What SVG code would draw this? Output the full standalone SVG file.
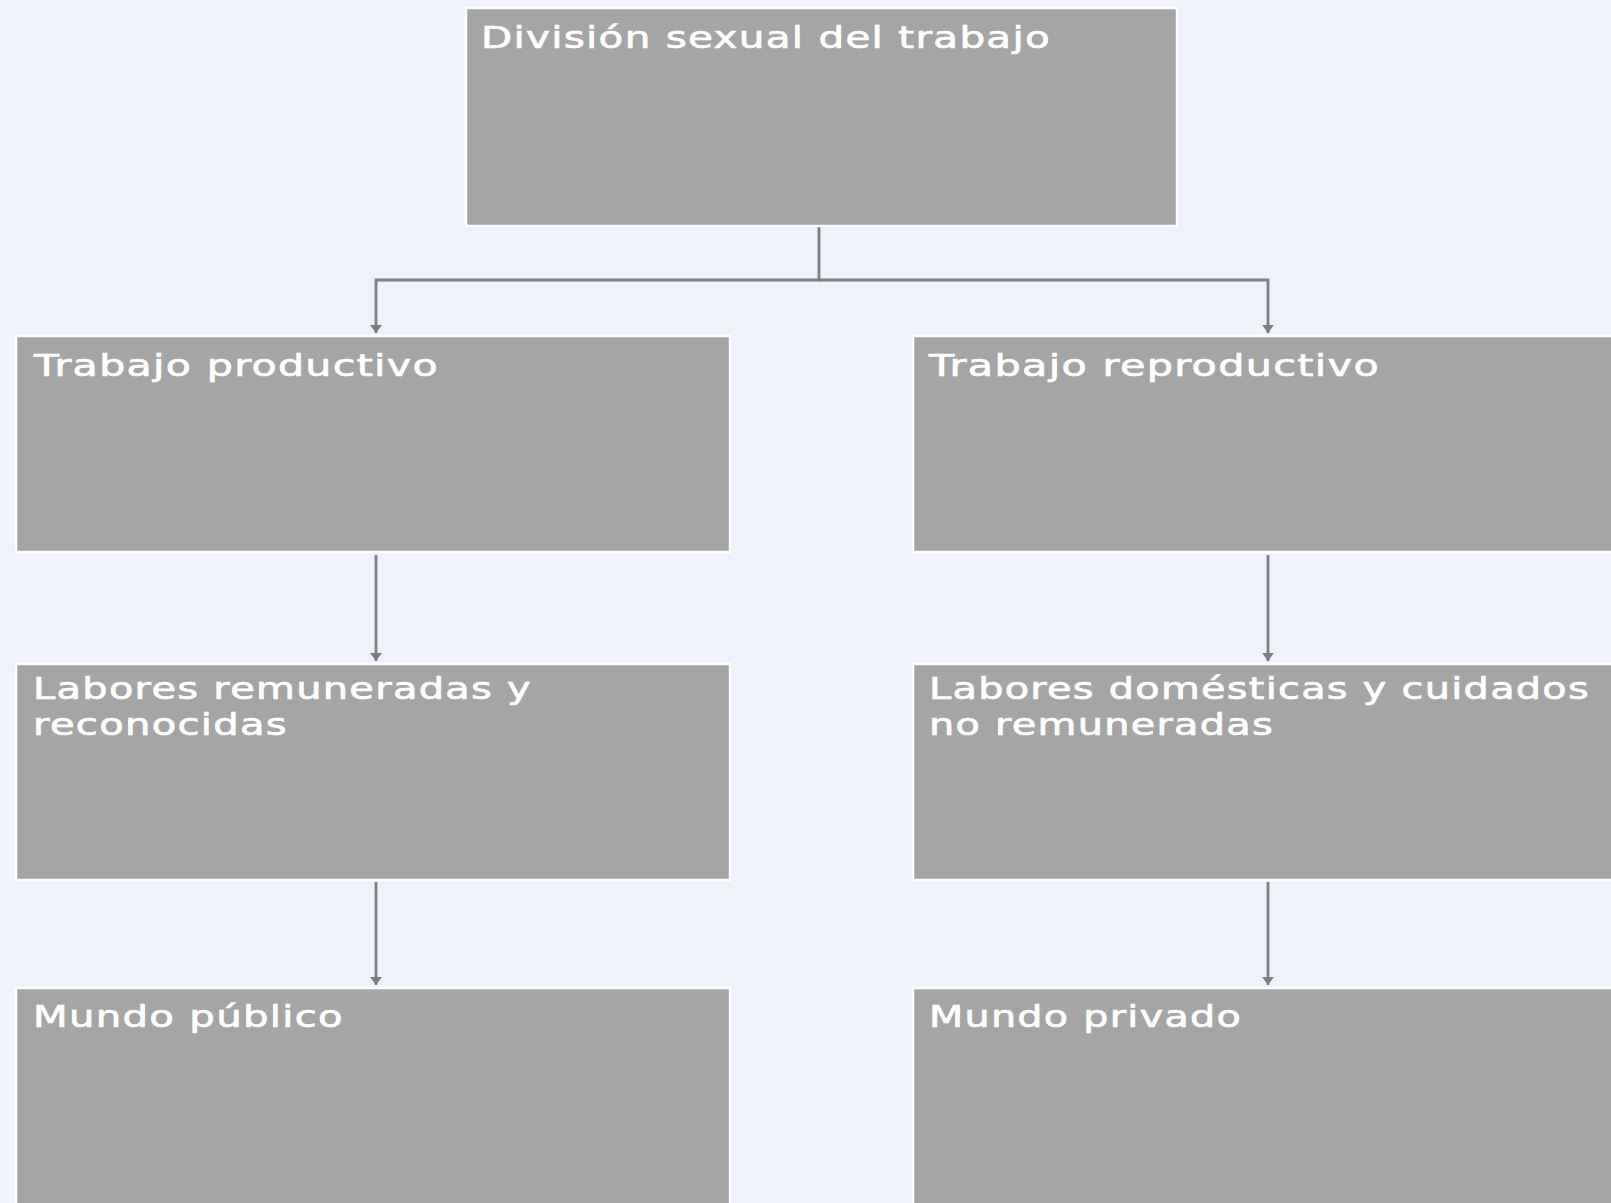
<svg xmlns="http://www.w3.org/2000/svg" width="1611" height="1203" viewBox="0 0 1611 1203">
<style>
.box{fill:#a5a5a5;stroke:#ffffff;stroke-width:2.5}
.lbl{font-family:"DejaVu Sans",Verdana,sans-serif;font-size:31px;fill:#ffffff;stroke:#ffffff;stroke-width:0.7;letter-spacing:1px}
.conn{fill:none;stroke:#7f7f7f;stroke-width:2.8}
</style>
<defs>
<marker id="ah" viewBox="0 0 12 8" refX="6" refY="8" markerWidth="12" markerHeight="8" markerUnits="userSpaceOnUse" orient="0">
<path d="M0,0 L12,0 L6,8 Z" fill="#7f7f7f"/>
</marker>
</defs>
<rect x="0" y="0" width="1611" height="1203" fill="#eef2fa"/>
<g id="connectors">
<path class="conn" d="M819,227 V280 H376 V333" marker-end="url(#ah)"/>
<path class="conn" d="M819,280 H1268 V333" marker-end="url(#ah)"/>
<path class="conn" d="M376,555 V661" marker-end="url(#ah)"/>
<path class="conn" d="M1268,555 V661" marker-end="url(#ah)"/>
<path class="conn" d="M376,882 V985" marker-end="url(#ah)"/>
<path class="conn" d="M1268,882 V985" marker-end="url(#ah)"/>
</g>
<g id="n-division">
<rect class="box" x="466" y="8" width="711" height="218"/>
<text class="lbl" x="481" y="48" textLength="570" lengthAdjust="spacingAndGlyphs">División sexual del trabajo</text>
</g>
<g id="n-productivo">
<rect class="box" x="16" y="336" width="714" height="216"/>
<text class="lbl" x="34" y="376" textLength="405" lengthAdjust="spacingAndGlyphs">Trabajo productivo</text>
</g>
<g id="n-reproductivo">
<rect class="box" x="913" y="336" width="710" height="216"/>
<text class="lbl" x="929" y="376" textLength="451" lengthAdjust="spacingAndGlyphs">Trabajo reproductivo</text>
</g>
<g id="n-remuneradas">
<rect class="box" x="16" y="664" width="714" height="216"/>
<text class="lbl" x="33" y="699" textLength="499" lengthAdjust="spacingAndGlyphs">Labores remuneradas y</text>
<text class="lbl" x="33" y="735" textLength="255" lengthAdjust="spacingAndGlyphs">reconocidas</text>
</g>
<g id="n-domesticas">
<rect class="box" x="913" y="664" width="710" height="216"/>
<text class="lbl" x="929" y="699" textLength="661" lengthAdjust="spacingAndGlyphs">Labores domésticas y cuidados</text>
<text class="lbl" x="929" y="735" textLength="345" lengthAdjust="spacingAndGlyphs">no remuneradas</text>
</g>
<g id="n-publico">
<rect class="box" x="16" y="988" width="714" height="230"/>
<text class="lbl" x="33" y="1027" textLength="311" lengthAdjust="spacingAndGlyphs">Mundo público</text>
</g>
<g id="n-privado">
<rect class="box" x="913" y="988" width="710" height="230"/>
<text class="lbl" x="929" y="1027" textLength="313" lengthAdjust="spacingAndGlyphs">Mundo privado</text>
</g>
</svg>
